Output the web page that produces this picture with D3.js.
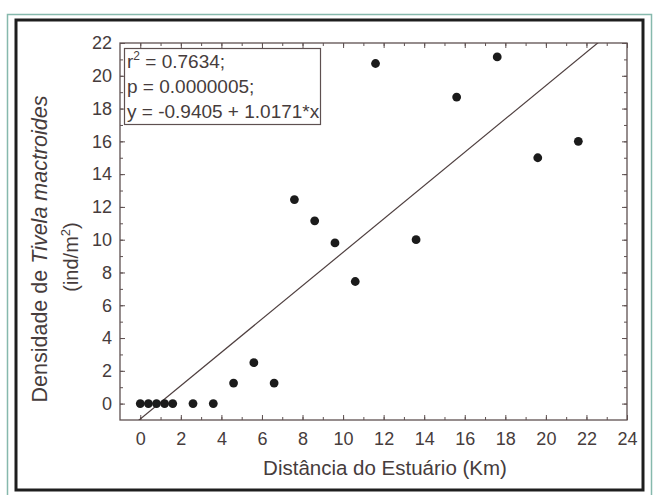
<!DOCTYPE html>
<html>
<head>
<meta charset="utf-8">
<script src="https://cdn.jsdelivr.net/npm/d3@7"></script>
<style>
  body { margin: 0; background: #fff; }
  text { font-family: Arial, "Liberation Sans", sans-serif; }
</style>
</head>
<body>
<main></main>
<script>
// distance from the estuary (km) and density (ind/m2)
let distances = [0, 0.4, 0.8, 1.2, 1.6, 2.6, 3.6, 4.6, 5.6, 6.6, 7.6, 8.6, 9.6, 10.6, 11.6, 13.6, 15.6, 17.6, 19.6, 21.6]
let densities = [0, 0, 0, 0, 0, 0, 0, 1.25, 2.5, 1.25, 12.45, 11.15, 9.8, 7.45, 20.75, 10, 18.7, 21.15, 15, 16]
let xTicks = [0, 2, 4, 6, 8, 10, 12, 14, 16, 18, 20, 22, 24]
let yTicks = [0, 2, 4, 6, 8, 10, 12, 14, 16, 18, 20, 22]
let fitCoef = [-0.9405, 1.0171]
let statLines = ['r2 = 0.7634;', 'p = 0.0000005;', 'y = -0.9405 + 1.0171*x']

let inkText = '#463c3c'
let inkAxis = '#5e5050'

let svg = d3.select('main')
    .append('svg')
    .attr('width', 654)
    .attr('height', 495)

// frames
svg.append('rect')
    .attr('x', 7.5).attr('y', 14.5)
    .attr('width', 644).attr('height', 490)
    .style('fill', 'none')
    .style('stroke', '#86b9ad')
    .style('stroke-width', 1.5)

svg.append('rect')
    .attr('x', 16).attr('y', 20)
    .attr('width', 627).attr('height', 470)
    .style('fill', 'white')
    .style('stroke', '#1e1e1e')
    .style('stroke-width', 3)

let plotL = 120, plotR = 627, plotT = 43, plotB = 420

let x = d3.scaleLinear().domain([-1, 24]).range([plotL, plotR])
let y = d3.scaleLinear().domain([-1, 22]).range([plotB, plotT])

let minorX = d3.range(0, 25, 1)
let minorY = d3.range(0, 23, 1)

function styleAxis(g) {
    g.selectAll('.domain').remove()
    g.selectAll('line').style('stroke', inkAxis).style('stroke-width', 1)
    g.selectAll('text')
        .style('fill', inkText)
        .style('font-size', '18px')
        .style('font-family', 'Arial, "Liberation Sans", sans-serif')
}

// minor ticks on all four sides
svg.append('g').attr('transform', `translate(0,${plotB})`)
    .call(d3.axisBottom(x).tickValues(minorX).tickSize(-3).tickFormat(''))
    .call(styleAxis)
svg.append('g').attr('transform', `translate(0,${plotT})`)
    .call(d3.axisTop(x).tickValues(minorX).tickSize(-3).tickFormat(''))
    .call(styleAxis)
svg.append('g').attr('transform', `translate(${plotL},0)`)
    .call(d3.axisLeft(y).tickValues(minorY).tickSize(-3).tickFormat(''))
    .call(styleAxis)
svg.append('g').attr('transform', `translate(${plotR},0)`)
    .call(d3.axisRight(y).tickValues(minorY).tickSize(-3).tickFormat(''))
    .call(styleAxis)

// major ticks with labels
svg.append('g').attr('transform', `translate(0,${plotB})`)
    .call(d3.axisBottom(x).tickValues(xTicks).tickSize(-5).tickPadding(12))
    .call(styleAxis)
svg.append('g').attr('transform', `translate(${plotL},0)`)
    .call(d3.axisLeft(y).tickValues(yTicks).tickSize(-5).tickPadding(8))
    .call(styleAxis)
svg.append('g').attr('transform', `translate(0,${plotT})`)
    .call(d3.axisTop(x).tickValues(xTicks).tickSize(-5).tickFormat(''))
    .call(styleAxis)
svg.append('g').attr('transform', `translate(${plotR},0)`)
    .call(d3.axisRight(y).tickValues(yTicks).tickSize(-5).tickFormat(''))
    .call(styleAxis)

// plot frame
svg.append('rect')
    .attr('x', plotL).attr('y', plotT)
    .attr('width', plotR - plotL).attr('height', plotB - plotT)
    .style('fill', 'none')
    .style('stroke', inkAxis)
    .style('stroke-width', 1.3)

// regression line, clipped to the plot area
svg.append('clipPath').attr('id', 'plotclip')
    .append('rect')
    .attr('x', plotL).attr('y', plotT)
    .attr('width', plotR - plotL).attr('height', plotB - plotT)

let fx = [-1, 24]
svg.append('path')
    .datum(fx)
    .attr('clip-path', 'url(#plotclip)')
    .attr('d', d3.line().x(d => x(d)).y(d => y(fitCoef[0] + fitCoef[1] * d)))
    .style('fill', 'none')
    .style('stroke', '#4e3f3f')
    .style('stroke-width', 1.2)

// points
svg.append('g')
    .selectAll('circle')
    .data(distances)
    .join('circle')
    .attr('cx', d => x(d))
    .attr('cy', (d, i) => y(densities[i]))
    .attr('r', 4.4)
    .style('fill', '#1b1b1b')

// statistics box
svg.append('rect')
    .attr('x', 124.5).attr('y', 48.5)
    .attr('width', 196).attr('height', 76)
    .style('fill', 'white')
    .style('stroke', inkAxis)
    .style('stroke-width', 1.2)

let stats = svg.append('g')
    .style('fill', inkText)
    .style('font-size', '19px')

statLines.forEach((s, i) => {
    let t = stats.append('text')
        .attr('x', 127)
        .attr('y', 68 + i * 25)
    if (s.startsWith('r2')) {
        t.append('tspan').text('r')
        t.append('tspan').attr('dy', -8).style('font-size', '12px').text('2')
        t.append('tspan').attr('dy', 8).text(s.slice(2))
    } else {
        t.text(s)
    }
})

// axis titles
svg.append('text')
    .attr('x', 385)
    .attr('y', 475)
    .attr('text-anchor', 'middle')
    .style('fill', inkText)
    .style('font-size', '20.5px')
    .text('Distância do Estuário (Km)')

let yt = svg.append('text')
    .attr('transform', 'translate(47,249) rotate(-90)')
    .attr('text-anchor', 'middle')
    .style('fill', inkText)
    .style('font-size', '21.5px')
yt.append('tspan').text('Densidade de ')
yt.append('tspan').style('font-style', 'italic').text('Tivela mactroides')

let yt2 = svg.append('text')
    .attr('transform', 'translate(78,257) rotate(-90)')
    .attr('text-anchor', 'middle')
    .style('fill', inkText)
    .style('font-size', '20px')
yt2.append('tspan').text('(ind/m')
yt2.append('tspan').attr('dy', -8).style('font-size', '13px').text('2')
yt2.append('tspan').attr('dy', 8).text(')')
</script>
</body>
</html>
